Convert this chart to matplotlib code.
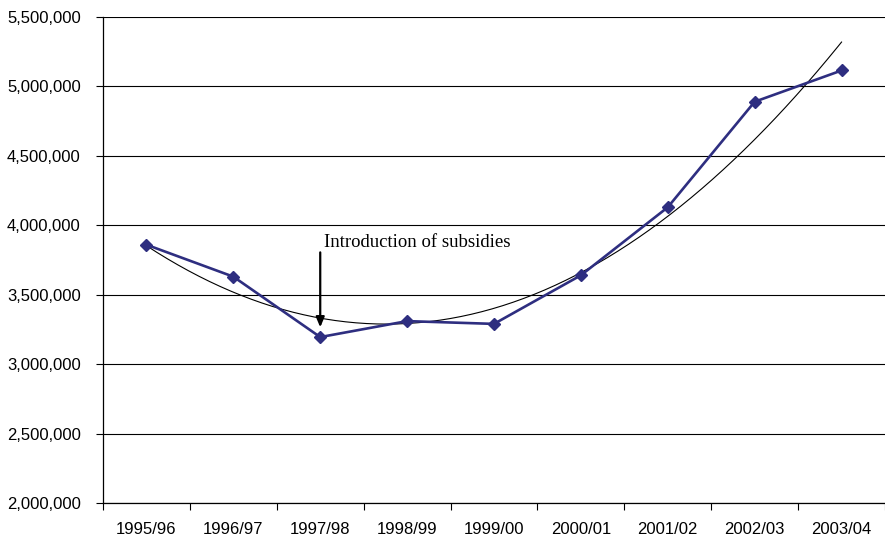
import numpy as np
import matplotlib
matplotlib.use("Agg")
import matplotlib.pyplot as plt
from matplotlib.ticker import FuncFormatter, MultipleLocator

years = ["1995/96", "1996/97", "1997/98", "1998/99", "1999/00",
         "2000/01", "2001/02", "2002/03", "2003/04"]
claimants = [3860000, 3630000, 3195000, 3310000, 3290000,
             3640000, 4130000, 4890000, 5115000]

subsidy_year = "1997/98"
subsidy_label = "Introduction of subsidies"

fig = plt.figure(figsize=(8.85, 5.37), dpi=100)
ax = fig.add_axes([0.1164, 0.0633, 0.8836, 0.905])

x = np.arange(len(years))
ax.plot(x, claimants, color="#2E2E80", lw=1.9, marker="D", ms=6,
        markerfacecolor="#2E2E80", markeredgecolor="#2E2E80", zorder=3)

# second-order polynomial trend through the series
coef = np.polyfit(x, claimants, 2)
xs = np.linspace(x[0], x[-1], 200)
ax.plot(xs, np.polyval(coef, xs), color="black", lw=0.8, zorder=2)

ax.set_xlim(-0.5, len(years) - 0.5)
ax.set_ylim(2000000, 5500000)
ax.yaxis.set_major_locator(MultipleLocator(500000))
ax.yaxis.set_major_formatter(FuncFormatter(lambda v, p: f"{int(v):,}"))
ax.grid(axis="y", color="black", lw=0.8)
ax.set_axisbelow(True)

ax.set_xticks(x)
ax.set_xticklabels(years)
ax.set_xticks(np.arange(-0.5, len(years)), minor=True)
ax.tick_params(axis="x", which="major", length=0, pad=14)
ax.tick_params(axis="x", which="minor", length=5, width=0.8, direction="out")
ax.tick_params(axis="y", length=5, width=0.8, direction="out", pad=11)
for lab in ax.get_xticklabels() + ax.get_yticklabels():
    lab.set_fontfamily("Liberation Sans")
    lab.set_fontsize(12)

# the uppermost gridline is lighter than the rest
fig.canvas.draw()
ax.yaxis.get_gridlines()[-1].set_color("#808080")

for side in ("top", "right"):
    ax.spines[side].set_visible(False)
for side in ("left", "bottom"):
    ax.spines[side].set_linewidth(0.9)

xi = years.index(subsidy_year)
ax.annotate("", xy=(xi, 3245000), xytext=(xi, 3825000),
            arrowprops=dict(arrowstyle="-|>,head_length=0.6,head_width=0.25",
                            color="black", lw=1.6))
ax.text(xi + 0.04, 3815000, subsidy_label, fontfamily="Liberation Serif",
        fontsize=13.5, va="bottom", ha="left")

fig.savefig("out.png", dpi=100)
